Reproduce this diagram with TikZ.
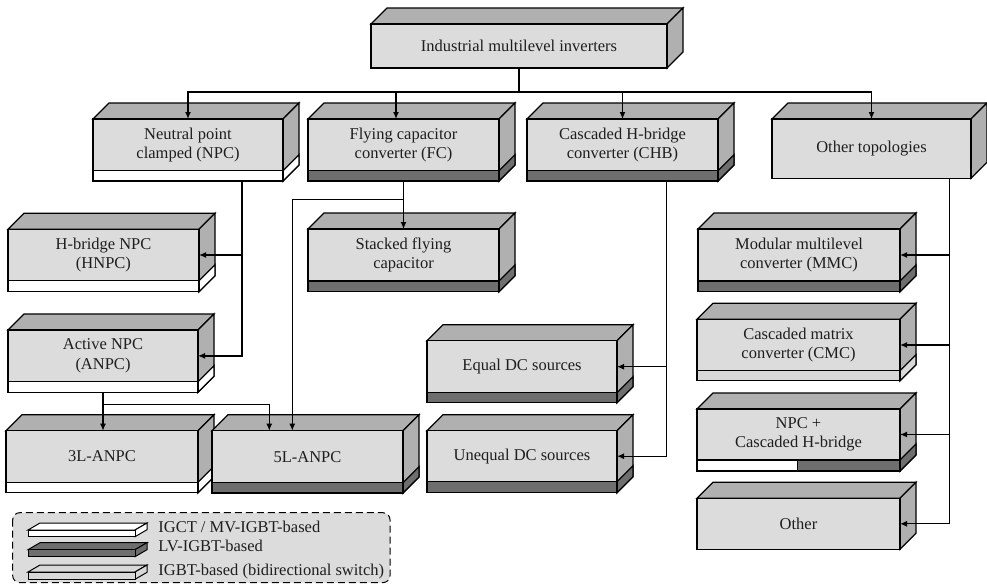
\documentclass[tikz,border=0pt]{standalone}
\usepackage{fontspec}
\setmainfont{Liberation Serif}
\usetikzlibrary{arrows.meta,calc}
\definecolor{facegray}{RGB}{220,220,220}
\definecolor{shellgray}{RGB}{176,176,176}
\definecolor{darkstrip}{RGB}{110,110,110}
\definecolor{lightstrip}{RGB}{216,216,216}
\definecolor{inkgray}{RGB}{30,30,30}
\def\dd{16}
% block without a switch strip: name, x1, x2, ytop, ybot, label
\newcommand{\plainblock}[6]{%
  \filldraw[shell] (#2,#4) -- ({#2+\dd},{#4-\dd}) -- ({#3+\dd},{#4-\dd}) -- (#3,#4) -- cycle;
  \filldraw[shell] (#3,#4) -- ({#3+\dd},{#4-\dd}) -- ({#3+\dd},{#5-\dd}) -- (#3,#5) -- cycle;
  \node[face, minimum width={(#3-#2)*1pt}, minimum height={(#5-#4)*1pt}] (#1) at ({(#2+#3)/2},{(#4+#5)/2}) {#6};
}
% block with a switch strip: name, x1, x2, ytop, yface, ybot, strip colour, label
\newcommand{\stripblock}[8]{%
  \filldraw[shell] (#2,#4) -- ({#2+\dd},{#4-\dd}) -- ({#3+\dd},{#4-\dd}) -- (#3,#4) -- cycle;
  \filldraw[shell] (#3,#4) -- ({#3+\dd},{#4-\dd}) -- ({#3+\dd},{#6-\dd}) -- (#3,#6) -- cycle;
  \filldraw[draw=black, fill=#7] (#3,#5) -- ({#3+\dd},{#5-\dd}) -- ({#3+\dd},{#6-\dd}) -- (#3,#6) -- cycle;
  \node[face, minimum width={(#3-#2)*1pt}, minimum height={(#5-#4)*1pt}] (#1) at ({(#2+#3)/2},{(#4+#5)/2}) {#8};
  \node[stripbox, fill=#7, minimum width={(#3-#2)*1pt}, minimum height={(#6-#5)*1pt}] (#1s) at ({(#2+#3)/2},{(#5+#6)/2}) {};
}
% thin slab used as a legend key: x1, x2, ytop, ybot, colour
\newcommand{\keyslab}[5]{%
  \filldraw[draw=black, fill=#5, line width=1pt] (#1,#3) -- ({#1+12},{#3-7}) -- ({#2+12},{#3-7}) -- (#2,#3) -- cycle;
  \filldraw[draw=black, fill=#5, line width=1pt] (#2,#3) -- ({#2+12},{#3-7}) -- ({#2+12},{#4-7}) -- (#2,#4) -- cycle;
  \filldraw[draw=black, fill=#5, line width=1pt] (#1,#3) rectangle (#2,#4);
}
\begin{document}
\begin{tikzpicture}[x=1pt, y=-1pt, line width=1.3pt,
  shell/.style={draw=black, fill=shellgray},
  face/.style={draw=black, fill=facegray, inner sep=0pt, outer sep=0pt, align=center,
    font=\fontsize{16.5}{19.5}\selectfont, text=inkgray},
  stripbox/.style={draw=black, inner sep=0pt, outer sep=0pt},
  arr/.style={draw=black, -{Latex[length=7pt,width=6pt]}},
  keytext/.style={anchor=base west, inner sep=0pt, font=\fontsize{16.5}{19.5}\selectfont, text=inkgray},
]
\useasboundingbox (0,0) rectangle (987,584);

% root
\plainblock{top}{371}{667}{24}{68}{Industrial multilevel inverters}

% first level
\stripblock{npc}{93}{283}{119}{170.7}{181}{white}{Neutral point\\clamped (NPC)}
\stripblock{fc}{308}{499}{119}{170.7}{181}{darkstrip}{Flying capacitor\\converter (FC)}
\stripblock{chb}{527}{718}{119}{170.7}{181}{darkstrip}{Cascaded H-bridge\\converter (CHB)}
\plainblock{othertop}{772}{971}{119}{178.3}{Other topologies}

% NPC family
\stripblock{hnpc}{8}{199}{229.3}{280.7}{291.7}{white}{H-bridge NPC\\(HNPC)}
\stripblock{anpc}{8}{198}{330}{381.7}{392.3}{white}{Active NPC\\(ANPC)}
\stripblock{l3}{6}{198}{430.7}{482.3}{492.7}{white}{3L-ANPC}
\stripblock{l5}{212}{403}{430.7}{482.7}{493}{darkstrip}{5L-ANPC}

% FC family
\stripblock{stacked}{308}{499}{229}{281}{291.7}{darkstrip}{Stacked flying\\capacitor}

% CHB family
\stripblock{equal}{427}{617}{340.7}{392.7}{402.7}{darkstrip}{Equal DC sources}
\stripblock{unequal}{427}{617}{430.7}{481.7}{492.7}{darkstrip}{Unequal DC sources}

% other topologies
\stripblock{mmc}{698}{900}{229}{281}{291.7}{darkstrip}{Modular multilevel\\converter (MMC)}
\stripblock{cmc}{697}{900}{319.3}{370.7}{380.7}{lightstrip}{Cascaded matrix\\converter (CMC)}
\stripblock{npcchb}{697}{900}{409}{460}{471}{darkstrip}{NPC +\\Cascaded H-bridge}
\filldraw[draw=black, fill=white] (npcchbs.south west) rectangle ($(npcchbs.north west)+(100.7,0)$);
\plainblock{other}{697}{900}{498.3}{549.3}{Other}

% connectors from the root
\coordinate (bus) at (519,92);
\draw (top.south) -- (bus);
\draw[arr] (bus) -| (npc.north);
\draw[arr] (bus) -| ($(fc.north)+(-7.5,0)$);
\draw[arr] (bus) -| (chb.north);
\draw[arr] (bus) -| (othertop.north);

% NPC branches
\coordinate (npcdrop) at ($(npcs.south)+(54,0)$);
\draw[arr] (npcdrop) |- (anpc.east);
\draw[arr] (npcdrop |- hnpc.east) -- (hnpc.east);
\draw[arr] (anpcs.south) -- (anpcs.south |- l3.north);
\draw[arr] ($(anpcs.south)+(0,12)$) -| ($(l5.north)+(-38.2,0)$);

% FC branches
\draw[arr] (fcs.south) -- (stacked.north);
\draw[arr] ($(fcs.south)+(0,18.3)$) -| ($(l5.north)+(-15.2,0)$);

% CHB branches
\coordinate (chbdrop) at ($(chbs.south)+(44.2,0)$);
\draw[arr] (chbdrop) |- (unequal.east);
\draw[arr] (chbdrop |- equal.east) -- (equal.east);

% other-topology branches
\coordinate (otdrop) at ($(othertop.south)+(77.8,0)$);
\draw[arr] (otdrop) |- (other.east);
\draw[arr] (otdrop |- mmc.east) -- (mmc.east);
\draw[arr] (otdrop |- cmc.east) -- (cmc.east);
\draw[arr] (otdrop |- npcchb.east) -- (npcchb.east);

% legend
\draw[draw=black, fill=facegray, line width=1pt, dash pattern=on 7pt off 4pt, rounded corners=7pt]
  (12.7,512.7) rectangle (390,582.6);
\keyslab{28}{135}{530}{536.7}{white}
\keyslab{28}{135}{549.7}{556.7}{darkstrip}
\keyslab{28}{135}{572}{579.3}{lightstrip}
\node[keytext] (k1) at (157.7,532.7) {IGCT / MV-IGBT-based};
\node[keytext] (k2) at (157.7,551.7) {LV-IGBT-based};
\node[keytext] (k3) at (157.7,575) {IGBT-based (bidirectional switch)};
\end{tikzpicture}
\end{document}
